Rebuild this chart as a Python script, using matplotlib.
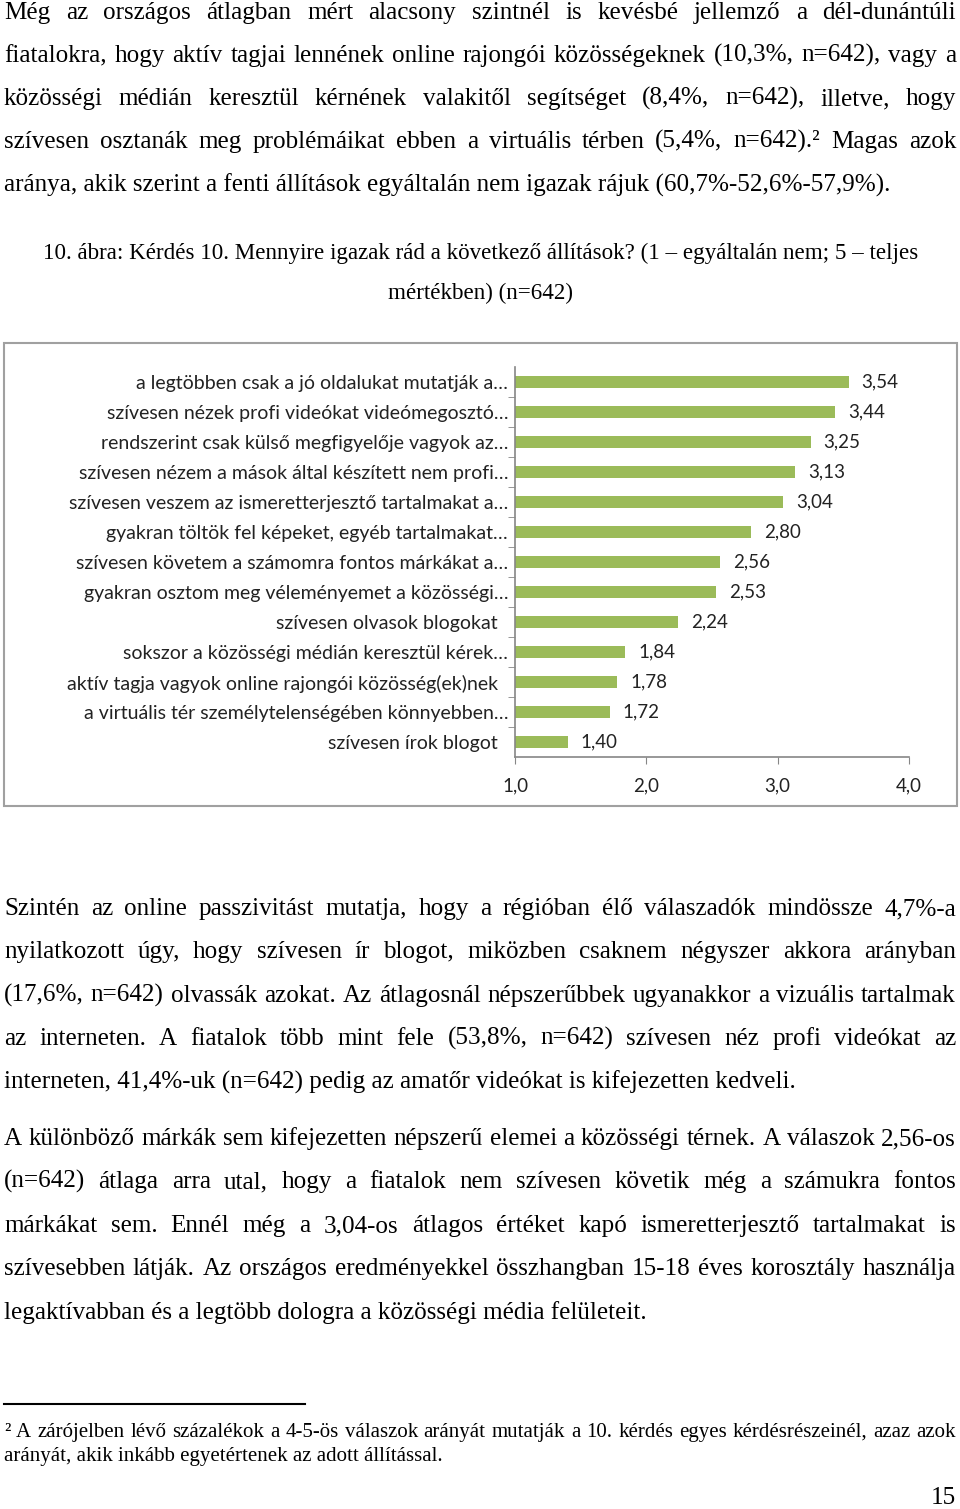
import numpy as np
import matplotlib
matplotlib.use('Agg')
import matplotlib.pyplot as plt
from matplotlib.patches import Rectangle
from matplotlib.lines import Line2D

# ------------------------------- DATA ---------------------------------
labels = ['a legtöbben csak a jó oldalukat mutatják a…',
          'szívesen nézek profi videókat videómegosztó…',
          'rendszerint csak külső megfigyelője vagyok az…',
          'szívesen nézem a mások által készített nem profi…',
          'szívesen veszem az ismeretterjesztő tartalmakat a…',
          'gyakran töltök fel képeket, egyéb tartalmakat…',
          'szívesen követem a számomra fontos márkákat a…',
          'gyakran osztom meg véleményemet a közösségi…',
          'szívesen olvasok blogokat\u00a0\u00a0',
          'sokszor a közösségi médián keresztül kérek…',
          'aktív tagja vagyok online rajongói közösség(ek)nek\u00a0\u00a0',
          'a virtuális tér személytelenségében könnyebben…',
          'szívesen írok blogot\u00a0\u00a0']
values = [3.54, 3.44, 3.25, 3.13, 3.04, 2.80, 2.56, 2.53, 2.24, 1.84, 1.78, 1.72, 1.40]
xticks = [1, 2, 3, 4]
xticklabels = ['1,0', '2,0', '3,0', '4,0']

para1 = ['Még az országos átlagban mért alacsony szintnél is kevésbé jellemző a dél-dunántúli',
         'fiatalokra, hogy aktív tagjai lennének online rajongói közösségeknek (10,3%, n=642), vagy a',
         'közösségi médián keresztül kérnének valakitől segítséget (8,4%, n=642), illetve, hogy',
         'szívesen osztanák meg problémáikat ebben a virtuális térben (5,4%, n=642).² Magas azok',
         'aránya, akik szerint a fenti állítások egyáltalán nem igazak rájuk (60,7%-52,6%-57,9%).']
caption = ['10. ábra: Kérdés 10. Mennyire igazak rád a következő állítások? (1 – egyáltalán nem; 5 – teljes',
           'mértékben) (n=642)']
para2 = ['Szintén az online passzivitást mutatja, hogy a régióban élő válaszadók mindössze 4,7%-a',
         'nyilatkozott úgy, hogy szívesen ír blogot, miközben csaknem négyszer akkora arányban',
         '(17,6%, n=642) olvassák azokat. Az átlagosnál népszerűbbek ugyanakkor a vizuális tartalmak',
         'az interneten. A fiatalok több mint fele (53,8%, n=642) szívesen néz profi videókat az',
         'interneten, 41,4%-uk (n=642) pedig az amatőr videókat is kifejezetten kedveli.']
para3 = ['A különböző márkák sem kifejezetten népszerű elemei a közösségi térnek. A válaszok 2,56-os',
         '(n=642) átlaga arra utal, hogy a fiatalok nem szívesen követik még a számukra fontos',
         'márkákat sem. Ennél még a 3,04-os átlagos értéket kapó ismeretterjesztő tartalmakat is',
         'szívesebben látják. Az országos eredményekkel összhangban 15-18 éves korosztály használja',
         'legaktívabban és a legtöbb dologra a közösségi média felületeit.']
footnote = ['² A zárójelben lévő százalékok a 4-5-ös válaszok arányát mutatják a 10. kérdés egyes kérdésrészeinél, azaz azok',
            'arányát, akik inkább egyetértenek az adott állítással.']

#------------------------------- SETTING --------------------------------
W, H = 960, 1509
serif = 'Liberation Serif'
sans = 'Lato'
barcolor = '#9BBB59'
axcolor = '#868686'
txtcolor = '#222222'

fig = plt.figure(figsize=(W/100, H/100), dpi=100)
rend = fig.canvas.get_renderer()

def fx(x): return x/W
def fy(y): return 1 - y/H

def width_of(s, size, family):
    t = fig.text(0, 0, s, fontsize=size, family=family)
    w = t.get_window_extent(rend).width
    t.remove()
    return w

def fit_size(s, target, family):
    return 10*target/width_of(s, 10, family)

def put(s, x, y, size, family=serif, ha='left'):
    fig.text(fx(x), fy(y), s, fontsize=size, family=family, ha=ha, va='baseline')

def justify(s, x0, x1, y, size, family=serif):
    words = s.split(' ')
    ws = [width_of(w, size, family) for w in words]
    gap = (x1 - x0 - sum(ws))/(len(words) - 1)
    x = x0
    for w, wd in zip(words, ws):
        put(w, x, y, size, family)
        x += wd + gap

body = fit_size(para1[-1], 889, serif)
capsize = fit_size(caption[0], 879, serif)
foot = fit_size(footnote[-1], 437, serif)

def paragraph(lines, ys):
    for k, (s, y) in enumerate(zip(lines, ys)):
        if k < len(lines) - 1:
            justify(s, 4, 956, y, body)
        else:
            put(s, 4, y, body)

paragraph(para1, [19, 62, 105, 148, 192])
put(caption[0], 480.5, 259, capsize, ha='center')
put(caption[1], 480, 299, capsize, ha='center')
paragraph(para2, [915, 958, 1002, 1045, 1089])
paragraph(para3, [1145, 1188, 1232, 1275, 1319])
justify(footnote[0], 4, 956, 1437, foot)
put(footnote[1], 4, 1461, foot)
put('15', 956, 1504, body, ha='right')
fig.add_artist(Line2D([fx(4), fx(305)], [fy(1404), fy(1404)], color='black', lw=1.5))

# chart frame
fig.add_artist(Rectangle((fx(4), fy(806)), fx(957) - fx(4), fy(343) - fy(806),
                         fill=False, edgecolor='#A0A0A0', lw=1.5))

#---------------------------------- plot ---------------------------------
lab = fit_size(labels[0], 371, sans)
valsize = fit_size('3,54', 37, sans)
ticksize = fit_size('1,0', 26, sans)
ax = fig.add_axes([fx(515), fy(757), fx(909) - fx(515), fy(367) - fy(757)])
pos = np.arange(len(values))
ax.barh(pos, np.array(values) - 1, left=1, height=0.4, color=barcolor)
for p, v in zip(pos, values):
    ax.annotate(f'{v:.2f}'.replace('.', ','), (v, p), xytext=(13, 0), textcoords='offset pixels',
                va='center', ha='left', fontsize=valsize, family=sans, color=txtcolor)
ax.set_xlim(1, 4)
ax.set_ylim(len(values) - 0.5, -0.5)
ax.set_yticks(pos)
ax.set_yticklabels(labels, fontsize=lab, family=sans, color=txtcolor)
ax.set_yticks(pos[:-1] + 0.5, minor=True)
ax.tick_params(axis='y', which='major', length=0, pad=5)
ax.tick_params(axis='y', which='minor', length=5, color=axcolor, direction='out')
ax.set_xticks(xticks)
ax.set_xticklabels(xticklabels, fontsize=ticksize, family=sans, color=txtcolor)
ax.tick_params(axis='x', length=5, color=axcolor, pad=10)
for sp in ['top', 'right']:
    ax.spines[sp].set_visible(False)
for sp in ['left', 'bottom']:
    ax.spines[sp].set_color(axcolor)
    ax.spines[sp].set_linewidth(1.2)
ax.patch.set_visible(False)

fig.savefig('out.png', dpi=100)
